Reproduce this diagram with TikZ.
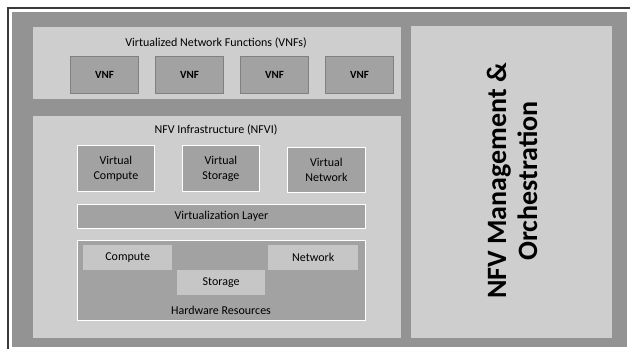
\documentclass[tikz,border=0pt]{standalone}
\usepackage{fontspec}
\setmainfont{Carlito}
\begin{document}
\begin{tikzpicture}[x=1pt,y=-1pt,
  panel/.style={fill=panelgray,draw=none},
  vnfbox/.style={fill=boxgray,draw=vnfedge,line width=0.8pt,font=\bfseries\fontsize{11}{12}\selectfont},
  virtbox/.style={fill=boxgray,draw=white,line width=0.9pt,font=\fontsize{12}{15}\selectfont,align=center},
  hwitem/.style={fill=itemgray,draw=none,font=\fontsize{12}{14}\selectfont},
  ttl/.style={font=\fontsize{12}{14}\selectfont,text=black}
]
\definecolor{bggray}{HTML}{939393}
\definecolor{panelgray}{HTML}{CECECE}
\definecolor{boxgray}{HTML}{A2A2A2}
\definecolor{vnfedge}{HTML}{808080}
\definecolor{itemgray}{HTML}{C6C6C6}
\definecolor{framegray}{HTML}{3A3A3A}
\useasboundingbox (0,0) rectangle (630,349);
\fill[white] (0,0) rectangle (630,349);
% outer frame and background
\fill[bggray] (12,12) rectangle (627,347);
\draw[framegray,line width=1.5pt] (8,349) -- (8,8) -- (630,8);
% panels
\node[panel,minimum width=368,minimum height=72,inner sep=0,anchor=north west] (vnfp) at (33,27) {};
\node[panel,minimum width=368,minimum height=222,inner sep=0,anchor=north west] (nfvi) at (33,116) {};
\node[panel,minimum width=201,minimum height=312,inner sep=0,anchor=north west] (mano) at (411,26) {};
\node[font=\bfseries\fontsize{28}{31}\selectfont,rotate=90,align=center] (manot) at (512,181) {NFV Management \&\\Orchestration};
% VNFs
\node[ttl] (vnft) at (216,43) {Virtualized Network Functions (VNFs)};
\node[vnfbox,minimum width=68,minimum height=37,inner sep=0,anchor=north west] (v1) at (70,56) {VNF};
\node[vnfbox,minimum width=68,minimum height=37,inner sep=0,anchor=north west] (v2) at (155,56) {VNF};
\node[vnfbox,minimum width=68,minimum height=37,inner sep=0,anchor=north west] (v3) at (240,56) {VNF};
\node[vnfbox,minimum width=68,minimum height=37,inner sep=0,anchor=north west] (v4) at (325,56) {VNF};
% NFVI
\node[ttl] (nfvit) at (216,130) {NFV Infrastructure (NFVI)};
\node[virtbox,minimum width=77,minimum height=46,inner sep=0,anchor=north west] (vc) at (77,145) {Virtual\\Compute};
\node[virtbox,minimum width=77,minimum height=46,inner sep=0,anchor=north west] (vs) at (182,145) {Virtual\\Storage};
\node[virtbox,minimum width=78,minimum height=45,inner sep=0,anchor=north west] (vn) at (287,147) {Virtual\\Network};
\node[virtbox,minimum width=288,minimum height=24,inner sep=0,anchor=north west] (vl) at (77,203.5) {Virtualization Layer};
\node[virtbox,minimum width=288,minimum height=80,inner sep=0,anchor=north west] (hw) at (77,239.5) {};
\node[hwitem,minimum width=89,minimum height=25,inner sep=0,anchor=north west] (hc) at (83,245) {Compute};
\node[hwitem,minimum width=88,minimum height=25,inner sep=0,anchor=north west] (hs) at (177,270) {Storage};
\node[hwitem,minimum width=90,minimum height=25,inner sep=0,anchor=north west] (hn) at (268,245) {Network};
\node[ttl] (hwt) at (221,310) {Hardware Resources};
\end{tikzpicture}
\end{document}
